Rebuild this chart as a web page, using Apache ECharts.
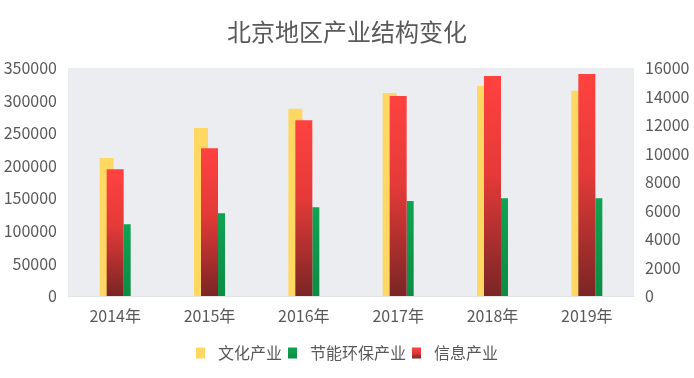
<!DOCTYPE html>
<html>
<head>
<meta charset="utf-8">
<script src="https://cdn.jsdelivr.net/npm/echarts@6/dist/echarts.min.js"></script>
<style>
  html, body { margin: 0; padding: 0; background: #fff; }
  #main { width: 694px; height: 378px; }
</style>
</head>
<body>
<div id="main"></div>
<script>
var years = ['2014年', '2015年', '2016年', '2017年', '2018年', '2019年'];
// 文化产业 (left axis)
var culture = [212000, 258000, 287500, 311500, 322500, 315000];
// 节能环保产业 (right axis)
var greenIndustry = [5030, 5800, 6220, 6670, 6860, 6860];
// 信息产业 (right axis)
var infoIndustry = [8890, 10370, 12330, 14030, 15440, 15580];

var leftTicks = { min: 0, max: 350000, interval: 50000 };
var rightTicks = { min: 0, max: 16000, interval: 2000 };

var font = '"Noto Sans CJK SC", "Noto Sans", sans-serif';
var textColor = '#595959';

var plainNumber = function(v) { return String(v); };

var myChart = echarts.init(document.getElementById('main'));

var option = {
    backgroundColor: '#fff',
    textStyle: { fontFamily: font },
    title: {
        text: '北京地区产业结构变化',
        left: 'center',
        top: 15,
        textStyle: { fontFamily: font, fontSize: 24, fontWeight: 'normal', color: textColor }
    },
    legend: {
        bottom: 12,
        left: 'center',
        icon: 'rect',
        itemWidth: 9,
        itemHeight: 11,
        itemGap: 6,
        textStyle: { fontFamily: font, fontSize: 16, color: textColor, padding: [0, 0, 0, 8] },
        data: ['文化产业', '节能环保产业', '信息产业']
    },
    grid: {
        left: 68,
        right: 60,
        top: 68,
        bottom: 82,
        containLabel: false,
        show: true,
        backgroundColor: '#ecedf1',
        borderWidth: 0
    },
    xAxis: [
        {
            type: 'category',
            data: years,
            axisLine: { show: true, lineStyle: { color: '#e2e3e7' } },
            axisTick: { show: false },
            axisLabel: { fontFamily: font, fontSize: 16, color: textColor, margin: 12 }
        },
        {
            type: 'category',
            data: years,
            show: false
        }
    ],
    yAxis: [
        {
            type: 'value',
            min: leftTicks.min,
            max: leftTicks.max,
            interval: leftTicks.interval,
            splitLine: { show: false },
            axisLine: { show: false },
            axisTick: { show: false },
            axisLabel: { fontFamily: font, fontSize: 16, color: textColor, margin: 11, formatter: plainNumber }
        },
        {
            type: 'value',
            min: rightTicks.min,
            max: rightTicks.max,
            interval: rightTicks.interval,
            splitLine: { show: false },
            axisLine: { show: false },
            axisTick: { show: false },
            axisLabel: { fontFamily: font, fontSize: 16, color: textColor, margin: 11, formatter: plainNumber }
        }
    ],
    series: [
        {
            name: '文化产业',
            type: 'bar',
            xAxisIndex: 0,
            yAxisIndex: 0,
            barWidth: 14,
            barGap: '71.4%',
            itemStyle: { color: '#fed862' },
            data: culture
        },
        {
            name: '节能环保产业',
            type: 'bar',
            xAxisIndex: 0,
            yAxisIndex: 1,
            barWidth: 7,
            barGap: '71.4%',
            itemStyle: {
                color: new echarts.graphic.LinearGradient(0, 0, 0, 1, [
                    { offset: 0, color: '#0fa352' },
                    { offset: 1, color: '#0b8c44' }
                ])
            },
            data: greenIndustry
        },
        {
            name: '信息产业',
            type: 'bar',
            xAxisIndex: 1,
            yAxisIndex: 1,
            barWidth: 17,
            z: 3,
            itemStyle: {
                color: new echarts.graphic.LinearGradient(0, 0, 0, 1, [
                    { offset: 0, color: '#ff4240' },
                    { offset: 0.45, color: '#e43a38' },
                    { offset: 1, color: '#7a2525' }
                ])
            },
            data: infoIndustry
        }
    ]
};

myChart.setOption(option);
</script>
</body>
</html>
